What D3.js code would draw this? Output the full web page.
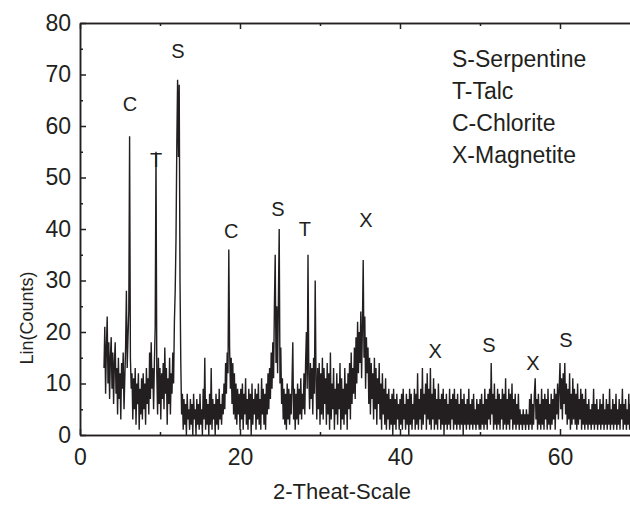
<!DOCTYPE html>
<html>
<head>
<meta charset="utf-8">
<script src="https://cdn.jsdelivr.net/npm/d3@7"></script>
<style>
body{margin:0;background:#fff;}
text{font-family:"Liberation Sans",Arial,sans-serif;fill:#231f20;}
</style>
</head>
<body>
<div class="canvas"></div>
<script>
// data: counts every 0.1 deg from 3.0 deg
const startAngle = 3;
const stepAngle = 0.1;

const counts03 = [13,21,8,17,23,10,18,7,15,19, 9,16,6,14,18,8,13,4,15,7, 12,3,14,9,16,5,11,17,28,13,
  19,24,58,15,9,12,3,11,5,13, 2,10,6,12,1,9,4,11,3,12, 5,10,2,13,6,11,4,16,7,18, 9,13,5,14,21,55,12,4,15,6];
const counts10 = [13,3,12,7,14,5,17,8,13,2, 11,6,15,4,12,8,16,10,22,28, 38,56,69,54,68,30,14,4,8,1,
  7,2,6,0,8,3,5,1,7,2, 6,0,8,3,5,0,7,2,6,1, 8,2,5,0,9,3,15,1,7,2, 6,0,8,2,13,1,7,3,6,0,
  8,2,7,1,9,3,6,2,8,4, 10,5,14,8,16,12,36,17,9,15, 6,14,4,12,3,10,2,9,4,8];
const counts20 = [1,9,3,10,1,8,4,11,2,7, 1,9,3,8,0,10,2,7,4,9, 1,8,3,10,2,7,1,11,4,9, 2,8,1,10,4,12,5,13,7,16,
  9,18,11,25,35,14,25,12,26,40, 10,17,6,11,3,9,2,8,1,10, 3,9,2,8,4,10,18,3,9,1, 8,3,10,2,9,4,11,3,8,5,
  12,4,14,20,9,35,12,5,14,7, 13,4,15,8,30,11,3,13,5,14];
const counts30 = [2,12,4,15,3,13,6,11,2,14, 4,12,1,16,3,10,5,13,1,9, 4,12,2,10,5,14,1,11,3,9, 2,13,4,10,1,12,5,14,3,16,
  6,13,8,17,7,19,10,22,12,20, 14,24,11,21,34,15,23,9,19,12, 17,6,15,4,14,7,12,3,15,5, 13,2,11,6,14,3,10,1,12,4,
  9,2,11,1,8,3,9,1,7,2, 8,0,9,2,7,1,8,3,6,1];
const counts40 = [7,2,8,1,9,3,6,1,8,2, 7,0,9,2,8,1,6,3,9,1, 8,2,12,1,7,3,9,1,13,2, 8,4,10,1,12,3,9,2,13,1,
  8,3,11,1,9,2,7,1,10,3, 7,1,8,2,9,0,7,2,8,1, 6,2,9,1,7,3,8,1,9,2, 7,1,8,2,6,1,9,2,7,0,
  8,2,6,1,7,2,9,1,6,2, 7,1,8,2,5,1,7,2,6,1];
const counts50 = [7,1,8,2,6,1,9,2,7,1, 8,3,9,2,14,4,8,1,10,2, 7,1,9,2,8,1,7,3,9,1, 8,2,11,1,7,2,9,1,8,3,
  10,1,7,2,8,1,6,2,8,1, 5,2,4,1,5,2,4,1,5,2, 4,1,7,2,8,1,6,2,8,11, 3,7,1,8,2,6,1,9,2,7,
  1,8,3,7,1,9,2,6,1,8, 2,7,3,9,1,8,4,10,3,9];
const counts60 = [14,5,11,3,12,6,14,4,10,2, 9,3,12,1,8,2,11,3,9,2, 8,1,10,2,7,3,9,1,8,2, 7,1,9,2,6,1,7,2,5,1,
  6,2,9,1,6,2,7,1,5,2, 7,1,6,2,8,1,5,2,7,1, 6,2,9,1,5,2,7,1,6,2, 8,1,5,2,7,1,6,3,9,1,
  6,2,7,1,5,2,8,1,6,2, 7,1,6,2,8,1,5,2,7,1, 6];

const counts = [].concat(counts03, counts10, counts20, counts30, counts40, counts50, counts60);

// peak markers
const peakNames   = ['C','T','S','C','S','T','X','X','S','X','S'];
const peakAngles  = [6.25,9.5,12.25,18.9,24.75,28.1,35.75,44.4,51.1,56.6,60.75];
const peakLevels  = [63,52,73.3,38.3,42.6,38.7,40.3,15,16.2,12.7,17];

const legendLines = ['S-Serpentine','T-Talc','C-Chlorite','X-Magnetite'];

const yTicks = [0,10,20,30,40,50,60,70,80];
const yMinorTicks = [5,15,25,35,45,55,65,75];
const xTicks = [0,20,40,60];
const xMinorTicks = [10,30,50,70];

// dimensions
const margin = {top: 23, right: 0, bottom: 71, left: 80};
const graphWidth = 560;
const graphHeight = 412;
const ink = '#231f20';

const svg = d3.select('.canvas')
  .append('svg')
  .attr('width', 630)
  .attr('height', 506);

const graph = svg.append('g')
  .attr('transform', `translate(${margin.left},${margin.top})`);

const x = d3.scaleLinear().domain([0,70]).range([0,graphWidth]);
const y = d3.scaleLinear().domain([0,80]).range([graphHeight,0]);

const data = counts.map((c,i) => ({angle: startAngle + i*stepAngle, count: c}));

const line = d3.line()
  .x(d => x(d.angle))
  .y(d => y(d.count));

graph.append('path')
  .datum(data)
  .attr('fill','none')
  .attr('stroke', ink)
  .attr('stroke-width', 1.4)
  .attr('stroke-linejoin','bevel')
  .attr('d', line);

// axes
const yAxisGroup = graph.append('g').attr('class','y-axis');
yAxisGroup.call(d3.axisLeft(y).tickValues(yTicks).tickSize(-6).tickSizeOuter(0).tickPadding(9));
graph.append('g')
  .call(d3.axisLeft(y).tickValues(yMinorTicks).tickSize(-3).tickSizeOuter(0).tickFormat(''));

const xAxisGroup = graph.append('g')
  .attr('class','x-axis')
  .attr('transform', `translate(0,${graphHeight})`);
xAxisGroup.call(d3.axisBottom(x).tickValues(xTicks).tickSize(-6).tickSizeOuter(0).tickPadding(14));
graph.append('g')
  .attr('transform', `translate(0,${graphHeight})`)
  .call(d3.axisBottom(x).tickValues(xMinorTicks).tickSize(-3).tickSizeOuter(0).tickFormat(''));

// top frame
graph.append('g')
  .call(d3.axisTop(x).tickValues(xTicks).tickSize(-6).tickSizeOuter(0).tickFormat(''));
graph.append('g')
  .call(d3.axisTop(x).tickValues(xMinorTicks).tickSize(-3).tickSizeOuter(0).tickFormat(''));

graph.selectAll('.domain, .tick line')
  .attr('stroke', ink)
  .attr('stroke-width', 1.5);

graph.selectAll('.tick text')
  .attr('font-size', 23)
  .attr('font-family', '"Liberation Sans",Arial,sans-serif')
  .attr('fill', ink);

// axis titles
svg.append('text')
  .attr('transform', 'translate(33,318) rotate(-90)')
  .attr('text-anchor','middle')
  .attr('font-size', 18)
  .text('Lin(Counts)');

svg.append('text')
  .attr('x', 342)
  .attr('y', 499)
  .attr('text-anchor','middle')
  .attr('font-size', 22)
  .text('2-Theat-Scale');

// peak labels
graph.selectAll('.peak')
  .data(peakNames)
  .enter()
  .append('text')
  .attr('class','peak')
  .attr('x', (d,i) => x(peakAngles[i]))
  .attr('y', (d,i) => y(peakLevels[i]))
  .attr('text-anchor','middle')
  .attr('font-size', 20)
  .text(d => d);

// legend
svg.selectAll('.legend')
  .data(legendLines)
  .enter()
  .append('text')
  .attr('class','legend')
  .attr('x', 452)
  .attr('y', (d,i) => 67 + i*32)
  .attr('font-size', 23)
  .text(d => d);
</script>
</body>
</html>
